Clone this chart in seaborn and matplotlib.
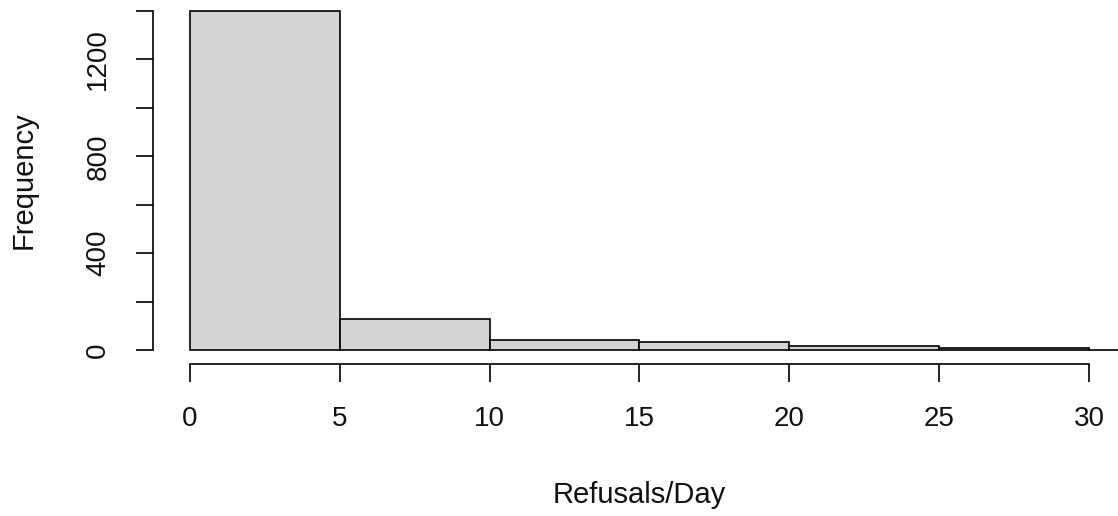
import numpy as np
import pandas as pd
import matplotlib
matplotlib.use("Agg")
import matplotlib.pyplot as plt
import seaborn as sns

# Histogram of refusals per day (bin edges and counts)
bin_edges = [0, 5, 10, 15, 20, 25, 30, 35]
counts = [1400, 128, 40, 32, 18, 8, 2]
x_ticks = [0, 5, 10, 15, 20, 25, 30]
y_ticks = [0, 200, 400, 600, 800, 1000, 1200, 1400]
y_labels = ["0", "", "400", "", "800", "", "1200", ""]

sns.set_style("white")
plt.rcParams["font.family"] = ["Liberation Sans", "DejaVu Sans"]

mids = [(a + b) / 2 for a, b in zip(bin_edges[:-1], bin_edges[1:])]
df = pd.DataFrame({"mid": mids, "count": counts})

fig = plt.figure(figsize=(11.18, 5.16), dpi=100)
W, H = 1118, 516
left, right, top, bottom = 153, 1118, 5, 355
ax = fig.add_axes([left / W, 1 - bottom / H, (right - left) / W, (bottom - top) / H])

sns.histplot(data=df, x="mid", weights="count", bins=bin_edges,
             color="#d3d3d3", edgecolor="black", linewidth=1.2,
             alpha=1, ax=ax)
for p in ax.patches:
    p.set_clip_on(False)

px_per_unit_x = 29.97
px_per_unit_y = 339 / 1400
ax.set_xlim(-(190 - left) / px_per_unit_x, 30 + (right - 1089) / px_per_unit_x)
ax.set_ylim(-(bottom - 350) / px_per_unit_y, 1400 + (11 - top) / px_per_unit_y)

for s in ["top", "right"]:
    ax.spines[s].set_visible(False)
ax.spines["left"].set_bounds(0, 1400)
ax.spines["bottom"].set_bounds(0, 30)
ax.spines["bottom"].set_position(("outward", 9 * 72 / 100))
for s in ["left", "bottom"]:
    ax.spines[s].set_color("black")
    ax.spines[s].set_linewidth(1.2)

ax.set_xticks(x_ticks)
ax.set_xticklabels([str(t) for t in x_ticks])
ax.set_yticks(y_ticks)
ax.set_yticklabels(y_labels, rotation=90, va="center")

ax.tick_params(axis="x", direction="out", length=13, width=1.2, color="black",
               pad=17, labelsize=20, labelcolor="#111111", bottom=True)
ax.tick_params(axis="y", direction="out", length=12, width=1.2, color="black",
               pad=18, labelsize=20, labelcolor="#111111", left=True)

ax.set_xlabel("Refusals/Day", fontsize=21, color="#111111")
ax.set_ylabel("Frequency", fontsize=21, color="#111111")
ax.xaxis.set_label_coords(0.5 + (639 - (left + right) / 2) / (right - left), -(495 - bottom) / (bottom - top))
ax.xaxis.label.set_va("center")
ax.yaxis.set_label_coords(-(left - 24) / (right - left), 0.5)
ax.yaxis.label.set_va("center")

fig.savefig("out.png", dpi=100, facecolor="white")
